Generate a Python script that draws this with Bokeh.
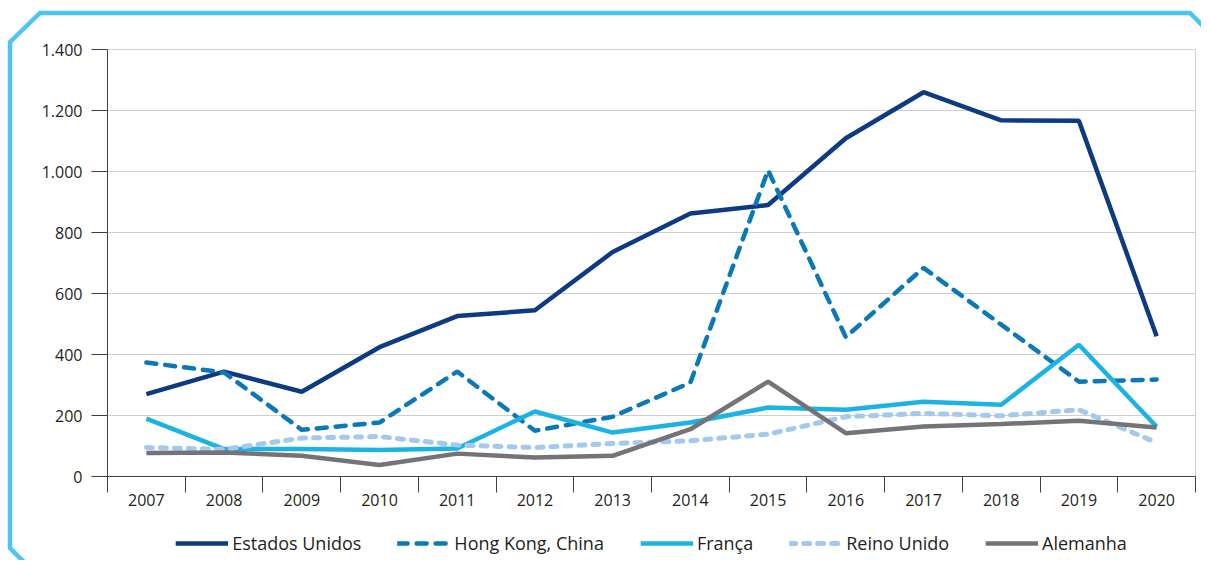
from urllib.parse import quote
from bokeh.plotting import figure
from bokeh.layouts import column
from bokeh.models import Legend, LegendItem, FixedTicker, Range1d
from bokeh.embed import file_html
from bokeh.resources import INLINE

years = [2007, 2008, 2009, 2010, 2011, 2012, 2013, 2014, 2015, 2016, 2017, 2018, 2019, 2020]
estados_unidos = [270, 344, 278, 424, 526, 545, 736, 862, 890, 1109, 1260, 1168, 1166, 460]
hong_kong = [374, 341, 153, 177, 344, 150, 196, 308, 1004, 457, 684, 498, 311, 318]
franca = [190, 90, 90, 87, 92, 213, 144, 177, 226, 219, 245, 235, 432, 163]
reino_unido = [95, 89, 126, 131, 103, 95, 108, 117, 139, 196, 207, 199, 219, 111]
alemanha = [77, 79, 68, 38, 75, 62, 68, 155, 311, 142, 164, 172, 183, 161]
y_ticks = [0, 200, 400, 600, 800, 1000, 1200, 1400]
y_labels = ["0", "200", "400", "600", "800", "1.000", "1.200", "1.400"]

series = [
    ("Estados Unidos", estados_unidos, "#0D3A80", "solid", 4.5),
    ("Hong Kong, China", hong_kong, "#0B79B5", "10 9", 4.5),
    ("França", franca, "#1BB3E3", "solid", 4.5),
    ("Reino Unido", reino_unido, "#A3C9EC", "6 8", 5),
    ("Alemanha", alemanha, "#747478", "solid", 4.5),
]

FONT = "Open Sans"
W = 1201
H_MAIN, H_LEG = 524, 36

p = figure(width=W, height=H_MAIN, output_backend="svg", toolbar_location=None,
           x_range=Range1d(years[0] - 0.5, years[-1] + 0.5),
           y_range=Range1d(0, 1400),
           min_border_left=107, min_border_right=6, min_border_top=49, min_border_bottom=48)
p.background_fill_color = "white"
p.border_fill_color = None
p.outline_line_color = "#d0d0d0"
p.outline_line_width = 1

for name, vals, color, dash, lw in series:
    p.line(years, vals, line_color=color, line_width=lw, line_dash=dash,
           line_cap="round" if dash != "solid" else "butt")

bounds = [y - 0.5 for y in years] + [years[-1] + 0.5]
p.xaxis.ticker = FixedTicker(ticks=years, minor_ticks=bounds)
p.xaxis.major_tick_out = 0
p.xaxis.major_tick_in = 0
p.xaxis.minor_tick_out = 16
p.xaxis.minor_tick_in = 0
p.xaxis.minor_tick_line_color = "#404040"
p.xaxis.axis_line_color = "#404040"
p.xaxis.major_label_standoff = 1
p.xaxis.major_label_text_font = FONT
p.xaxis.major_label_text_font_size = "16px"
p.xaxis.major_label_text_color = "#231F20"
p.xgrid.visible = False

p.yaxis.ticker = FixedTicker(ticks=y_ticks)
p.yaxis.major_label_overrides = {t: l for t, l in zip(y_ticks, y_labels)}
p.yaxis.major_tick_out = 16
p.yaxis.major_tick_in = 0
p.yaxis.minor_tick_line_color = None
p.yaxis.major_tick_line_color = "#404040"
p.yaxis.axis_line_color = "#404040"
p.yaxis.major_label_standoff = 9
p.yaxis.major_label_text_font = FONT
p.yaxis.major_label_text_font_size = "16px"
p.yaxis.major_label_text_color = "#231F20"
p.ygrid.ticker = FixedTicker(ticks=y_ticks)
p.ygrid.grid_line_color = "#cfcfcf"
p.ygrid.grid_line_width = 1

# legend strip (same series styles; the lines themselves fall outside this strip's ranges)
pl = figure(width=W, height=H_LEG, output_backend="svg", toolbar_location=None,
            x_range=Range1d(0, 1), y_range=Range1d(0, 1),
            x_axis_type=None, y_axis_type=None,
            min_border_left=107, min_border_right=6, min_border_top=2, min_border_bottom=0)
pl.background_fill_color = None
pl.border_fill_color = None
pl.outline_line_color = None
pl.grid.visible = False
items = []
for name, vals, color, dash, lw in series:
    r = pl.line(years, vals, line_color=color, line_width=lw, line_dash=dash,
                line_cap="round" if dash != "solid" else "butt")
    items.append(LegendItem(label=name, renderers=[r]))
legend = Legend(items=items, orientation="horizontal", location="center",
                label_text_font=FONT, label_text_font_size="18px", label_text_color="#231F20",
                glyph_width=53, glyph_height=20, label_standoff=4, spacing=36,
                border_line_color=None, background_fill_alpha=0, padding=0, margin=0)
pl.add_layout(legend, "center")

frame_svg = ('<svg xmlns="http://www.w3.org/2000/svg" width="1201" height="560">'
             '<polygon points="10,42 40,13 1190,13 1220,43 1220,546 1190,577 40,578 10,548" '
             'fill="none" stroke="#4CC6F1" stroke-width="4.5"/></svg>')
layout = column(p, pl, spacing=0,
                styles={"background-image": 'url("data:image/svg+xml,' + quote(frame_svg) + '")',
                        "background-repeat": "no-repeat",
                        "background-color": "white"})

open("out.html", "w").write(file_html(layout, INLINE))
